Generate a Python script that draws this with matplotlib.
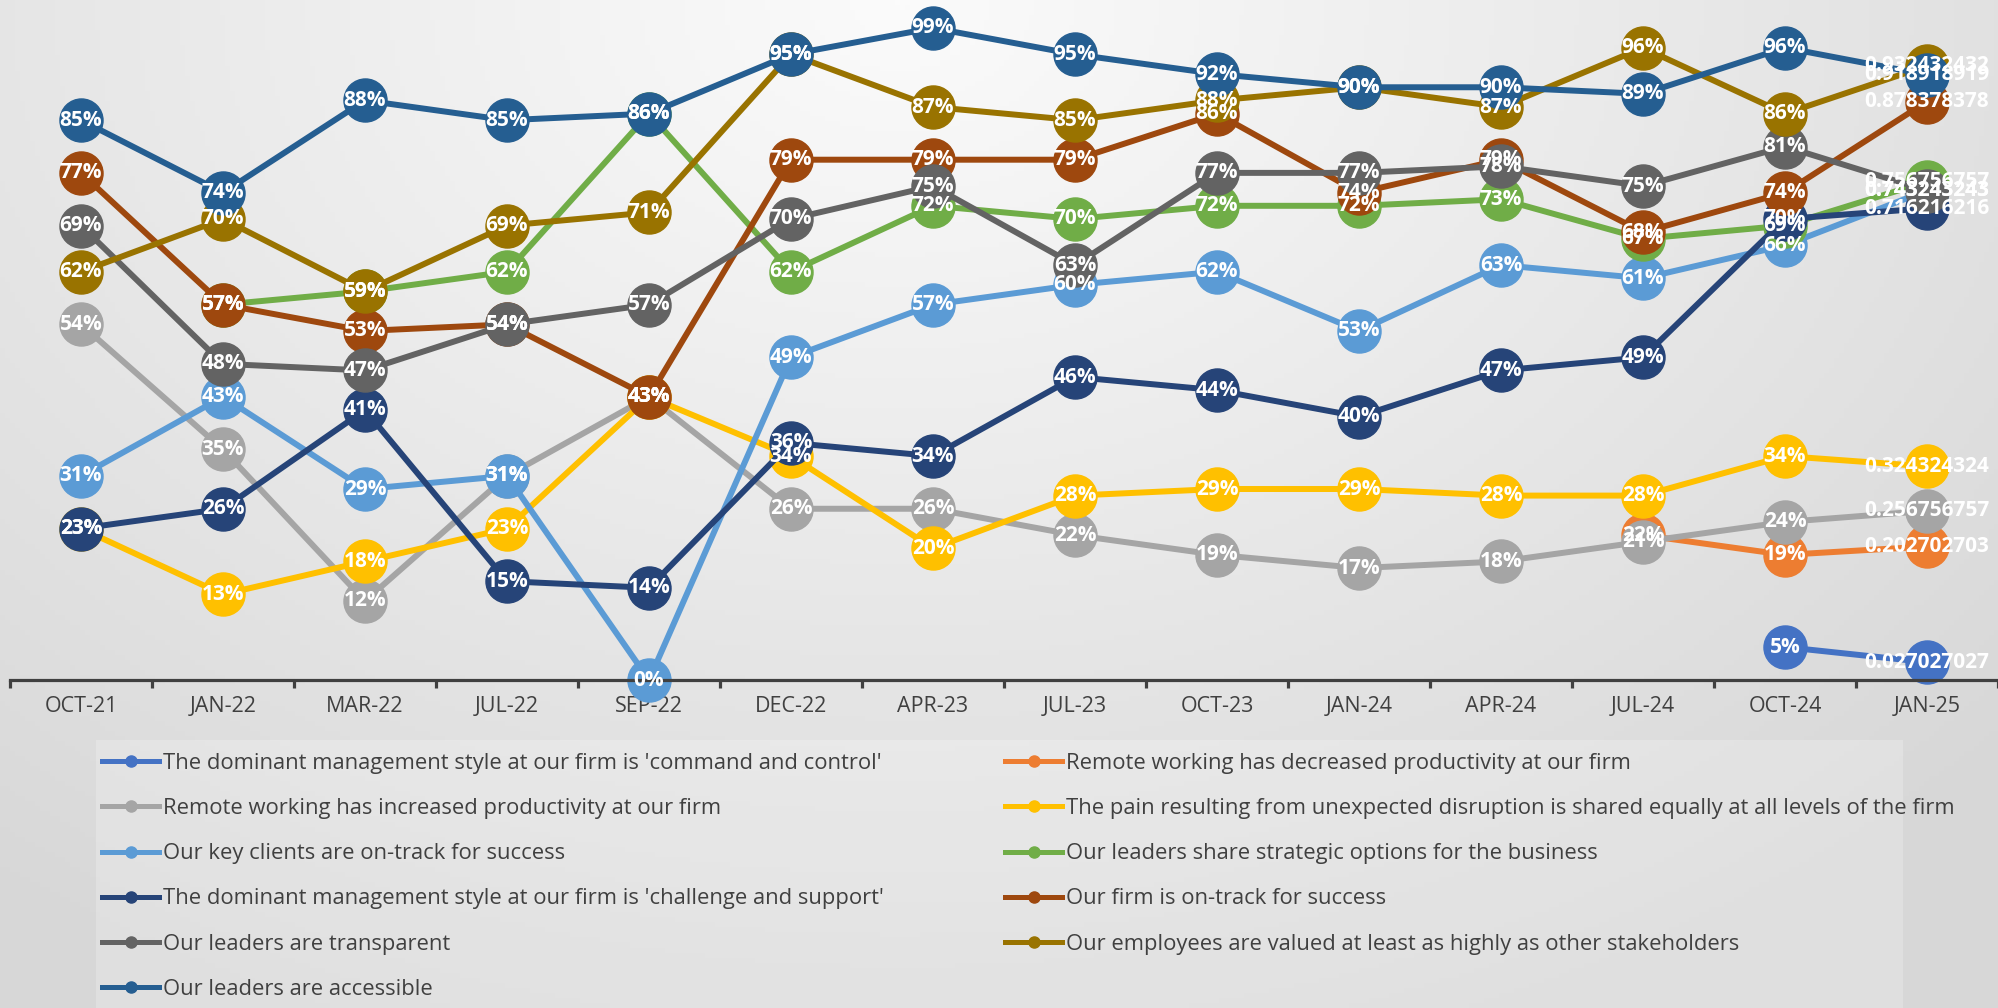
import numpy as np
import matplotlib
matplotlib.use("Agg")
import matplotlib.pyplot as plt
from matplotlib.lines import Line2D
from matplotlib.patches import Rectangle

plt.rcParams['font.family'] = ['Open Sans', 'DejaVu Sans']

nan = np.nan

categories = ["OCT-21", "JAN-22", "MAR-22", "JUL-22", "SEP-22", "DEC-22", "APR-23",
              "JUL-23", "OCT-23", "JAN-24", "APR-24", "JUL-24", "OCT-24", "JAN-25"]

names = [
    "The dominant management style at our firm is 'command and control'",
    "Remote working has decreased productivity at our firm",
    "Remote working has increased productivity at our firm",
    "The pain resulting from unexpected disruption is shared equally at all levels of the firm",
    "Our key clients are on-track for success",
    "Our leaders share strategic options for the business",
    "The dominant management style at our firm is 'challenge and support'",
    "Our firm is on-track for success",
    "Our leaders are transparent",
    "Our employees are valued at least as highly as other stakeholders",
    "Our leaders are accessible",
]

colors = ["#4472C4", "#ED7D31", "#A5A5A5", "#FFC000", "#5B9BD5", "#70AD47",
          "#264478", "#9E480E", "#636363", "#997300", "#255E91"]

command_control = [nan, nan, nan, nan, nan, nan, nan, nan, nan, nan, nan, nan, 0.05, 0.027027027]
remote_decreased = [nan, nan, nan, nan, nan, nan, nan, nan, nan, nan, nan, 0.22, 0.19, 0.202702703]
remote_increased = [0.54, 0.35, 0.12, 0.31, 0.43, 0.26, 0.26, 0.22, 0.19, 0.17, 0.18, 0.21, 0.24, 0.256756757]
pain_shared = [0.23, 0.13, 0.18, 0.23, 0.43, 0.34, 0.20, 0.28, 0.29, 0.29, 0.28, 0.28, 0.34, 0.324324324]
key_clients = [0.31, 0.43, 0.29, 0.31, 0.00, 0.49, 0.57, 0.60, 0.62, 0.53, 0.63, 0.61, 0.66, 0.743243243]
share_options = [nan, 0.57, 0.59, 0.62, 0.86, 0.62, 0.72, 0.70, 0.72, 0.72, 0.73, 0.67, 0.69, 0.756756757]
challenge_support = [0.23, 0.26, 0.41, 0.15, 0.14, 0.36, 0.34, 0.46, 0.44, 0.40, 0.47, 0.49, 0.70, 0.716216216]
firm_on_track = [0.77, 0.57, 0.53, 0.54, 0.43, 0.79, 0.79, 0.79, 0.86, 0.74, 0.79, 0.68, 0.74, 0.878378378]
transparent = [0.69, 0.48, 0.47, 0.54, 0.57, 0.70, 0.75, 0.63, 0.77, 0.77, 0.78, 0.75, 0.81, 0.743243243]
employees_valued = [0.62, 0.70, 0.59, 0.69, 0.71, 0.95, 0.87, 0.85, 0.88, 0.90, 0.87, 0.96, 0.86, 0.932432432]
accessible = [0.85, 0.74, 0.88, 0.85, 0.86, 0.95, 0.99, 0.95, 0.92, 0.90, 0.90, 0.89, 0.96, 0.918918919]

series = [command_control, remote_decreased, remote_increased, pain_shared, key_clients,
          share_options, challenge_support, firm_on_track, transparent, employees_valued,
          accessible]

W, H = 1999, 1008
fig = plt.figure(figsize=(W / 100, H / 100), dpi=100)

# background gradient
bg = fig.add_axes([0, 0, 1, 1], zorder=-10)
gx, gy = np.meshgrid(np.linspace(0, 1, 400), np.linspace(1, 0, 200))
r = np.sqrt(((gx - 0.45) / 0.75) ** 2 + ((gy - 1.0) / 1.1) ** 2)
shade = 0.985 - 0.14 * np.clip(r, 0, 1)
bg.imshow(np.dstack([shade] * 3), aspect='auto', extent=[0, 1, 0, 1])
bg.axis('off')

# legend box
fig.patches.append(Rectangle((96 / W, 0), 1 - 2 * 96 / W, 1 - 740 / H, transform=fig.transFigure,
                             facecolor='white', alpha=0.22, edgecolor='none', zorder=-5))

ax = fig.add_axes([10 / W, 1 - 680 / H, 1988 / W, (680 - 21.4) / H])
ax.set_facecolor('none')
x = np.arange(len(categories))

for k, (vals, c) in enumerate(zip(series, colors)):
    ax.plot(x, vals, color=c, lw=4.3, marker='o', markersize=31, zorder=2 + k * 0.01,
            solid_capstyle='round', clip_on=False)

for k, vals in enumerate(series):
    for i, v in enumerate(vals):
        if np.isnan(v):
            continue
        lab = f"{v:.9f}" if i == len(categories) - 1 else f"{v:.0%}"
        ax.text(i, v, lab, ha='center', va='center', color='white', fontsize=15,
                fontweight='bold', zorder=10 + k * 0.01)

ax.set_xlim(-0.5, len(categories) - 0.5)
ax.set_ylim(0, 1)
ax.set_yticks([])
for s in ['top', 'right', 'left']:
    ax.spines[s].set_visible(False)
ax.spines['bottom'].set_color('#404040')
ax.spines['bottom'].set_linewidth(2.3)
ax.set_xticks(x)
ax.set_xticklabels(categories, fontsize=15.5, color='#404040')
ax.tick_params(axis='x', which='major', length=0, pad=11.5)
ax.set_xticks(np.arange(-0.5, len(categories)), minor=True)
ax.tick_params(axis='x', which='minor', length=6, width=2.3, color='#404040')

handles = [Line2D([], [], color=c, lw=3.6, marker='o', markersize=8) for c in colors]
left_idx = [0, 2, 4, 6, 8, 10]
right_idx = [1, 3, 5, 7, 9]
common = dict(frameon=False, fontsize=15.8, labelcolor='#404040', handlelength=2.6,
              handletextpad=0.2, labelspacing=1.1, borderpad=0, borderaxespad=0,
              loc='upper left')
fig.legend([handles[i] for i in left_idx], [names[i] for i in left_idx],
           bbox_to_anchor=(102 / W, 1 - 753 / H), **common)
fig.legend([handles[i] for i in right_idx], [names[i] for i in right_idx],
           bbox_to_anchor=(1005 / W, 1 - 753 / H), **common)

fig.savefig("out.png", dpi=100)
